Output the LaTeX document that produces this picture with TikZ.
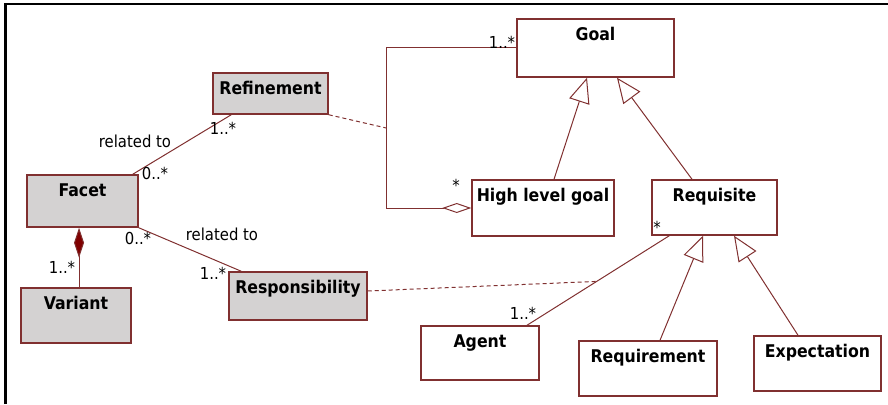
\documentclass[tikz,border=0pt]{standalone}
\usepackage{fontspec}
\setmainfont{DejaVu Sans Condensed}
\usetikzlibrary{calc, arrows.meta}

\definecolor{umlline}{RGB}{128,48,48}
\definecolor{umlfill}{RGB}{212,210,210}
\definecolor{umldiamond}{RGB}{128,0,0}

\tikzset{
  classbox/.style={draw=umlline, line width=1.5pt, rectangle, inner sep=0pt},
  shaded/.style={fill=umlfill},
  classname/.style={anchor=base, inner sep=0pt, font=\bfseries\fontsize{17.5}{20}\selectfont},
  mult/.style={inner sep=0pt, font=\fontsize{16.5}{19}\selectfont},
  assoc/.style={draw=umlline, line width=1pt},
  assocclass/.style={assoc, dash pattern=on 4pt off 3pt},
  generalize/.style={assoc, -{Triangle[open, length=25pt, width=21pt, fill=white]}},
  aggregate/.style={assoc, {Diamond[open, length=29pt, width=10pt, fill=white]}-},
  compose/.style={assoc, {Diamond[length=30pt, width=10pt, fill=umldiamond]}-},
}

\begin{document}
\begin{tikzpicture}[x=1pt, y=-1pt]
\useasboundingbox (0,0) rectangle (888,404);
\draw[line width=2.5pt] (5.5,404) -- (5.5,4) -- (888,4);

% classes
\node[classbox, shaded, minimum width=115pt, minimum height=41pt] (refinement) at (270.5,93.5) {};
\node[classbox, shaded, minimum width=111pt, minimum height=52pt] (facet) at (82.5,201) {};
\node[classbox, shaded, minimum width=110pt, minimum height=55pt] (variant) at (76,315.5) {};
\node[classbox, shaded, minimum width=138pt, minimum height=48pt] (responsibility) at (298,296) {};
\node[classbox, minimum width=157pt, minimum height=58pt] (goal) at (595.5,48) {};
\node[classbox, minimum width=142pt, minimum height=56pt] (highgoal) at (543,208) {};
\node[classbox, minimum width=125pt, minimum height=55pt] (requisite) at (714.5,207.5) {};
\node[classbox, minimum width=118pt, minimum height=54pt] (agent) at (480,353) {};
\node[classbox, minimum width=138pt, minimum height=55pt] (requirement) at (648,368.5) {};
\node[classbox, minimum width=127pt, minimum height=55pt] (expectation) at (817.5,363.5) {};

\foreach \cls/\txt in {refinement/Refinement, facet/Facet, variant/Variant,
    responsibility/Responsibility, goal/Goal, highgoal/High level goal,
    requisite/Requisite, agent/Agent, requirement/Requirement, expectation/Expectation}
  \node[classname] (\cls-name) at ([yshift=-22.5pt]\cls.north) {\txt};

% associations
\draw[assoc] ([xshift=-6pt]facet.north east) -- ([xshift=19pt]refinement.south west);
\draw[assoc] (facet.south east) -- ([xshift=13pt]responsibility.north west);
\draw[compose] ([xshift=-3.5pt]facet.south) -- ([xshift=-3.5pt]facet.south |- variant.north);
\draw[aggregate] (highgoal.west) -- ++(-85,0) coordinate (aggcorner) |- (goal.west);
\draw[assoc] ([xshift=18pt]requisite.south west) -- coordinate[pos=0.51] (agentlink) ([xshift=47pt]agent.north);

% association classes
\coordinate (aggmid) at ([yshift=80pt]aggcorner);
\draw[assocclass] (refinement.south east) -- (aggmid);
\draw[assocclass] ([yshift=5pt]responsibility.east) -- (agentlink);

% generalizations
\draw[generalize] ([xshift=11pt]highgoal.north) -- ([xshift=-8.5pt]goal.south);
\draw[generalize] ([xshift=-22.5pt]requisite.north) -- ([xshift=21.5pt]goal.south);
\draw[generalize] ([xshift=12pt]requirement.north) -- ([xshift=-11.5pt]requisite.south);
\draw[generalize] ([xshift=-19.5pt]expectation.north) -- ([xshift=19.5pt]requisite.south);

% role names and multiplicities
\node[mult] (fr-text) at (135,141) {related to};
\node[mult] (fr-ref) at (223,128) {1..*};
\node[mult] (fr-facet) at (155,173) {0..*};
\node[mult] (fs-facet) at (138,238) {0..*};
\node[mult] (fs-text) at (222,234) {related to};
\node[mult] (fs-resp) at (213,273) {1..*};
\node[mult] (fv-var) at (62,267) {1..*};
\node[mult] (gh-goal) at (502,42) {1..*};
\node[mult] (gh-high) at (456,185) {*};
\node[mult] (ra-req) at (657,227) {*};
\node[mult] (ra-agent) at (523,313) {1..*};
\end{tikzpicture}
\end{document}
